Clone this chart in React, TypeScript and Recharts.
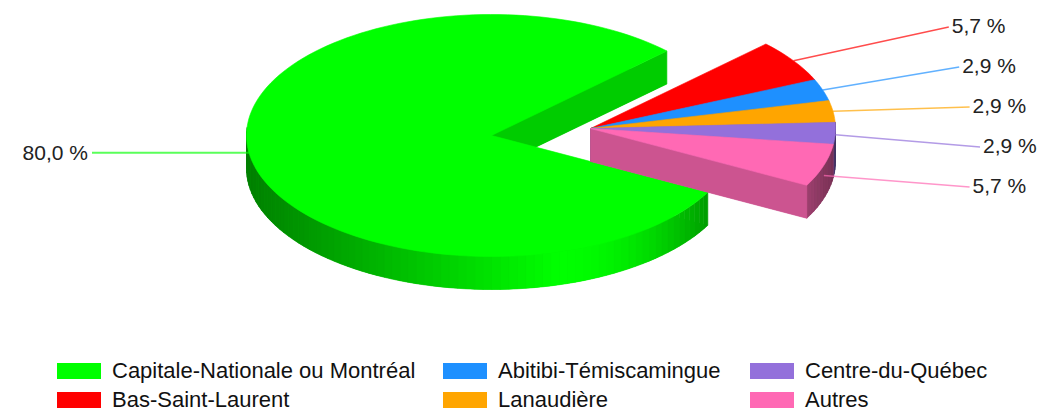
import { PieChart, Pie } from 'recharts'

// regions, shares and the printed labels
const regions = [
  'Capitale-Nationale ou Montréal',
  'Bas-Saint-Laurent',
  'Abitibi-Témiscamingue',
  'Lanaudière',
  'Centre-du-Québec',
  'Autres',
]
const shares = [80.0, 5.7, 2.9, 2.9, 2.9, 5.7]
const shareLabels = ['80,0 %', '5,7 %', '2,9 %', '2,9 %', '2,9 %', '5,7 %']
const colors = ['#00FF00', '#FF0000', '#1E90FF', '#FFA500', '#9370DB', '#FF69B4']

const data = regions.map((name, i) => ({ name, value: shares[i], label: shareLabels[i], color: colors[i] }))

const FONT = '"Liberation Sans", Arial, sans-serif'
const W = 1040
const H = 412
const CX = 536
const CY = 127
const RX = 245
const RY = 121
const DEPTH = 33
const EXPLODE = 50
const START = 332
const END = START - 360
const total = shares.reduce((a, b) => a + b, 0)
// the big slice is pulled one way, the small group the other
const bigMid = START - (shares[0] / total) * 180
const smallMid = bigMid - 180

const rad = (a: number) => (a * Math.PI) / 180

function shade(hex: string, k: number) {
  const n = parseInt(hex.slice(1), 16)
  const r = Math.round(((n >> 16) & 255) * k)
  const g = Math.round(((n >> 8) & 255) * k)
  const b = Math.round((n & 255) * k)
  return `rgb(${r},${g},${b})`
}

// brightness of the outer wall, by where it faces
function wallLight(a: number) {
  const c = Math.cos(rad(a))
  if (c < 0.27) return 0.5 + (0.5 * (c + 1)) / 1.27
  return 1 - 0.55 * Math.pow((c - 0.27) / 0.73, 2)
}

function sliceCenter(cx: number, cy: number, index: number) {
  const dir = index === 0 ? bigMid : smallMid
  return [cx + EXPLODE * Math.cos(rad(dir)), cy - EXPLODE * (RY / RX) * Math.sin(rad(dir))]
}

const pts = (p: number[][]) => p.map((q) => `${q[0].toFixed(2)},${q[1].toFixed(2)}`).join(' ')

function Slice3D(props: any) {
  const { cx, cy, startAngle, endAngle, index } = props
  const fill = colors[index]
  const [ox, oy] = sliceCenter(cx, cy, index)
  const s = Math.max(startAngle, endAngle)
  const e = Math.min(startAngle, endAngle)
  const P = (a: number, d = 0) => [ox + RX * Math.cos(rad(a)), oy - RY * Math.sin(rad(a)) + d]
  const n = Math.max(2, Math.ceil((s - e) / 2))
  const angles: number[] = []
  for (let k = 0; k <= n; k++) angles.push(s - ((s - e) * k) / n)
  const top = [[ox, oy], ...angles.map((a) => P(a))]
  const bottom = top.map((q) => [q[0], q[1] + DEPTH])
  const side = shade(fill, 0.8)
  const walls = angles.slice(0, -1).map((a, k) => {
    const b = angles[k + 1]
    if (Math.sin(rad((a + b) / 2)) > 0.05) return null
    const c = shade(fill, wallLight((a + b) / 2))
    return (
      <polygon key={k} points={pts([P(a), P(b), P(b, DEPTH), P(a, DEPTH)])} fill={c} stroke={c} strokeWidth={0.6} />
    )
  })
  const radial = (a: number) => (
    <polygon
      points={pts([[ox, oy], P(a), P(a, DEPTH), [ox, oy + DEPTH]])}
      fill={side}
      stroke={side}
      strokeWidth={0.6}
    />
  )
  return (
    <g>
      <polygon points={pts(bottom)} fill={side} />
      {walls}
      {radial(e)}
      <polygon points={pts(top)} fill={fill} stroke={fill} strokeWidth={0.6} />
    </g>
  )
}

function renderLabel(props: any) {
  const { cx, cy, midAngle, index } = props
  const [ox, oy] = sliceCenter(cx, cy, index)
  const c = Math.cos(rad(midAngle))
  const sn = Math.sin(rad(midAngle))
  const ax = ox + RX * c
  let ay = oy - RY * sn
  const color = colors[index]
  if (index === 0) {
    const tx = 88
    return (
      <g>
        <line x1={tx + 4} y1={ay} x2={ax} y2={ay} stroke={color} strokeOpacity={0.65} strokeWidth={2} />
        <text x={tx} y={ay} textAnchor="end" dominantBaseline="central" fontFamily={FONT} fontSize={21} fill="#222">
          {shareLabels[index]}
        </text>
      </g>
    )
  }
  if (sn < 0) ay += DEPTH * -sn
  const ly = 25 + (index - 1) * 40
  const lx = 983 - 0.26 * Math.abs(ly - 145)
  return (
    <g>
      <line x1={ax} y1={ay} x2={lx - 3} y2={ly + 2} stroke={color} strokeOpacity={0.7} strokeWidth={1.5} />
      <text x={lx} y={ly} textAnchor="start" dominantBaseline="central" fontFamily={FONT} fontSize={21} fill="#222">
        {shareLabels[index]}
      </text>
    </g>
  )
}

const LEGEND_COLS = [57, 443, 750]

function Legend() {
  return (
    <div style={{ position: 'absolute', left: 0, top: 360, width: W, height: 52 }}>
      {data.map((d, i) => {
        const col = Math.floor(i / 2)
        const row = i % 2
        return (
          <div
            key={d.name}
            style={{
              position: 'absolute',
              left: LEGEND_COLS[col],
              top: row * 29,
              height: 22,
              display: 'flex',
              alignItems: 'center',
              whiteSpace: 'nowrap',
            }}
          >
            <span style={{ width: 44, height: 16, background: d.color, display: 'inline-block', marginRight: 11 }} />
            <span style={{ fontFamily: FONT, fontSize: 22, color: '#111' }}>{d.name}</span>
          </div>
        )
      })}
    </div>
  )
}

export default function App() {
  return (
    <div style={{ position: 'absolute', left: 0, top: 0, width: W, height: H, background: '#fff' }}>
      <PieChart width={W} height={340}>
        <Pie
          data={data}
          dataKey="value"
          nameKey="name"
          cx={CX}
          cy={CY}
          outerRadius={RX}
          startAngle={START}
          endAngle={END}
          stroke="none"
          shape={Slice3D}
          label={renderLabel}
          labelLine={false}
          isAnimationActive={false}
        />
      </PieChart>
      <Legend />
    </div>
  )
}
